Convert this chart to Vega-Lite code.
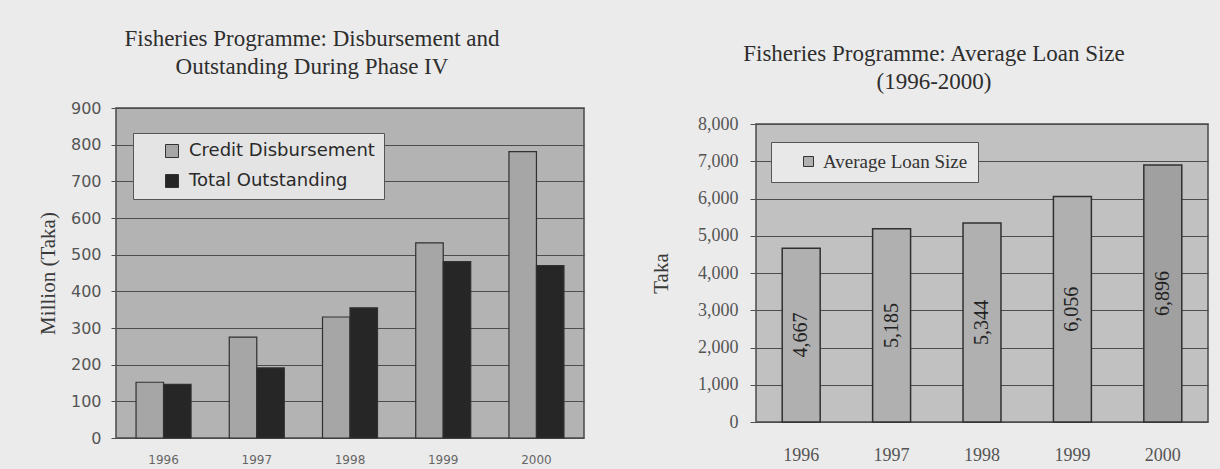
{
  "$schema": "https://vega.github.io/schema/vega-lite/v6.json",
  "background": "#ebebeb",
  "padding": {"left": 36, "top": 27, "right": 13, "bottom": 3},
  "spacing": 172,
  "bounds": "flush",
  "center": true,
  "config": {
    "font": "Liberation Serif",
    "view": {"stroke": "#4a4a4a", "strokeWidth": 1.5},
    "axis": {
      "domain": false,
      "gridColor": "#4d4d4d",
      "gridWidth": 1.2,
      "gridOpacity": 1,
      "tickColor": "#505050",
      "labelColor": "#4a4a4a",
      "titleColor": "#3a3a3a",
      "titleFontWeight": "normal"
    },
    "title": {"font": "Liberation Serif", "fontSize": 23, "fontWeight": "normal", "color": "#2e2e2e", "lineHeight": 28}
  },
  "resolve": {"scale": {"color": "independent"}, "legend": {"color": "independent"}},
  "hconcat": [
    {
      "width": 468,
      "height": 330,
      "view": {"fill": "#b3b3b3"},
      "title": {"text": ["Fisheries Programme: Disbursement and", "Outstanding During Phase IV"], "dx": -38, "offset": 21},
      "data": {
        "values": [
          {"year": "1996", "series": "Credit Disbursement", "value": 152},
          {"year": "1996", "series": "Total Outstanding", "value": 146},
          {"year": "1997", "series": "Credit Disbursement", "value": 275},
          {"year": "1997", "series": "Total Outstanding", "value": 191},
          {"year": "1998", "series": "Credit Disbursement", "value": 330},
          {"year": "1998", "series": "Total Outstanding", "value": 355},
          {"year": "1999", "series": "Credit Disbursement", "value": 532},
          {"year": "1999", "series": "Total Outstanding", "value": 481},
          {"year": "2000", "series": "Credit Disbursement", "value": 781},
          {"year": "2000", "series": "Total Outstanding", "value": 470}
        ]
      },
      "mark": {"type": "bar", "stroke": "#303030", "strokeWidth": 1.2},
      "encoding": {
        "x": {
          "field": "year",
          "type": "nominal",
          "scale": {"paddingInner": 0.41, "paddingOuter": 0.215},
          "axis": {"title": null, "labelAngle": 0, "labelFont": "DejaVu Sans", "labelFontSize": 12, "labelColor": "#666666", "ticks": false, "labelPadding": 16, "grid": false}
        },
        "xOffset": {"field": "series", "type": "nominal", "sort": ["Credit Disbursement", "Total Outstanding"]},
        "y": {
          "field": "value",
          "type": "quantitative",
          "scale": {"domain": [0, 900]},
          "axis": {
            "values": [0, 100, 200, 300, 400, 500, 600, 700, 800, 900],
            "format": ".0f",
            "title": "Million (Taka)",
            "titleFont": "Liberation Serif",
            "titleFontSize": 21,
            "titlePadding": 12,
            "labelFont": "DejaVu Sans",
            "labelFontSize": 16,
            "labelColor": "#555555",
            "tickSize": 5,
            "labelPadding": 10
          }
        },
        "color": {
          "field": "series",
          "type": "nominal",
          "scale": {"domain": ["Credit Disbursement", "Total Outstanding"], "range": ["#a6a6a6", "#262626"]},
          "legend": {
            "title": null,
            "orient": "none",
            "legendX": 17,
            "legendY": 25,
            "direction": "vertical",
            "fillColor": "#e4e4e4",
            "strokeColor": "#555555",
            "padding": 9,
            "symbolType": "square",
            "symbolSize": 169,
            "symbolStrokeColor": "#333333",
            "symbolStrokeWidth": 1,
            "labelFont": "DejaVu Sans",
            "labelFontSize": 18,
            "labelColor": "#2a2a2a",
            "labelLimit": 400,
            "rowPadding": 12,
            "labelOffset": 8,
            "symbolOffset": 21
          }
        }
      }
    },
    {
      "width": 452,
      "height": 298,
      "view": {"fill": "#c1c1c1"},
      "title": {"text": ["Fisheries Programme: Average Loan Size", "(1996-2000)"], "dx": -48, "offset": 21},
      "data": {
        "values": [
          {"year": "1996", "series": "Average Loan Size", "size": 4667},
          {"year": "1997", "series": "Average Loan Size", "size": 5185},
          {"year": "1998", "series": "Average Loan Size", "size": 5344},
          {"year": "1999", "series": "Average Loan Size", "size": 6056},
          {"year": "2000", "series": "Average Loan Size", "size": 6896}
        ]
      },
      "encoding": {
        "x": {
          "field": "year",
          "type": "nominal",
          "scale": {"paddingInner": 0.58, "paddingOuter": 0.29},
          "axis": {"title": null, "labelAngle": 0, "labelFont": "Liberation Serif", "labelFontSize": 18, "labelColor": "#555555", "ticks": false, "labelPadding": 24, "grid": false}
        }
      },
      "layer": [
        {
          "mark": {"type": "bar", "stroke": "#303030", "strokeWidth": 1.5},
          "encoding": {
            "y": {
              "field": "size",
              "type": "quantitative",
              "scale": {"domain": [0, 8000]},
              "axis": {
                "values": [0, 1000, 2000, 3000, 4000, 5000, 6000, 7000, 8000],
                "format": ",.0f",
                "title": "Taka",
                "titleFont": "Liberation Serif",
                "titleFontSize": 21,
                "titlePadding": 26,
                "labelFont": "Liberation Serif",
                "labelFontSize": 18,
                "labelColor": "#555555",
                "tickSize": 6,
                "labelPadding": 12
              }
            },
            "color": {
              "condition": {"test": "datum.year === '2000'", "value": "#a0a0a0"},
              "field": "series",
              "type": "nominal",
              "scale": {"range": ["#b0b0b0"]},
              "legend": {
                "title": null,
                "orient": "none",
                "legendX": 15,
                "legendY": 18,
                "fillColor": "#e8e8e8",
                "strokeColor": "#555555",
                "padding": 10,
                "symbolType": "square",
                "symbolSize": 100,
                "symbolStrokeColor": "#333333",
                "symbolStrokeWidth": 1,
                "symbolOffset": 18,
                "labelFont": "Liberation Serif",
                "labelFontSize": 19,
                "labelColor": "#333333",
                "labelLimit": 400,
                "labelOffset": 5
              }
            }
          }
        },
        {
          "transform": [{"calculate": "datum.size / 2", "as": "mid"}],
          "mark": {"type": "text", "angle": 270, "font": "Liberation Serif", "fontSize": 20, "color": "#222222", "baseline": "middle", "align": "center"},
          "encoding": {
            "y": {
              "field": "mid",
              "type": "quantitative",
              "axis": {
                "values": [0, 1000, 2000, 3000, 4000, 5000, 6000, 7000, 8000],
                "format": ",.0f",
                "title": "Taka",
                "titleFont": "Liberation Serif",
                "titleFontSize": 21,
                "titlePadding": 26,
                "labelFont": "Liberation Serif",
                "labelFontSize": 18,
                "labelColor": "#555555",
                "tickSize": 6,
                "labelPadding": 12
              }
            },
            "text": {"field": "size", "type": "quantitative", "format": ","}
          }
        }
      ]
    }
  ]
}
